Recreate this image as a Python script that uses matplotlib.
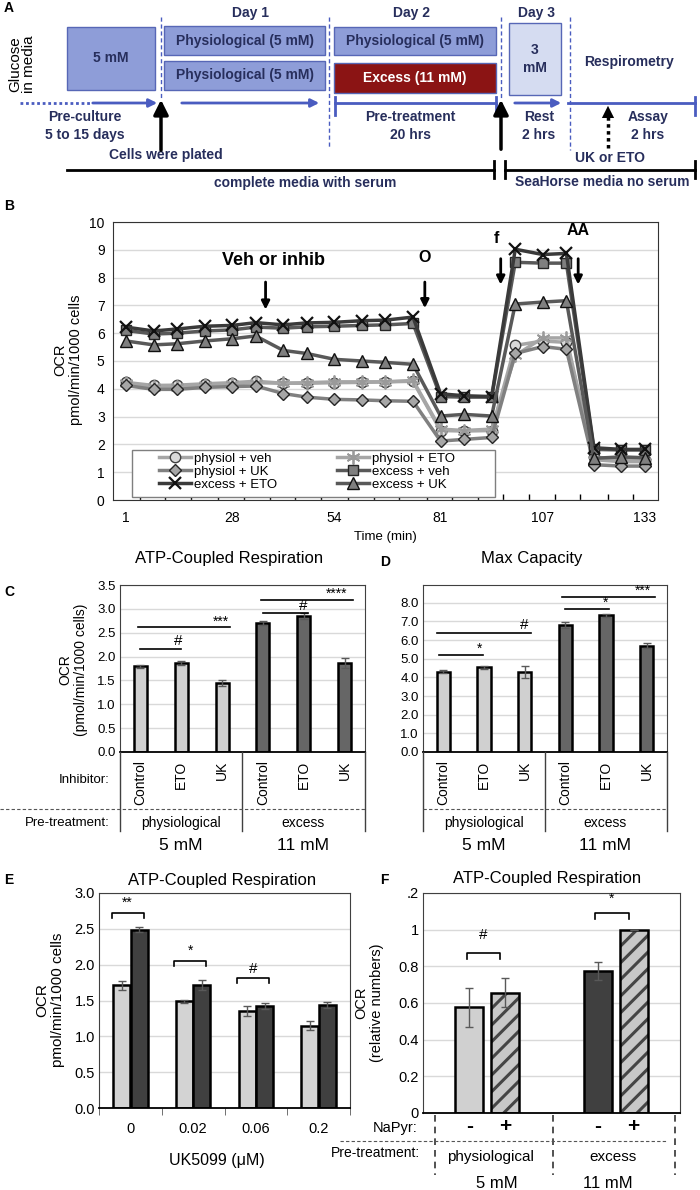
import matplotlib
matplotlib.use("Agg")
import matplotlib.pyplot as plt
from matplotlib.patches import Rectangle
from matplotlib.ticker import FormatStrFormatter
import numpy as np

plt.rcParams["font.family"] = ["Liberation Sans", "DejaVu Sans"]
plt.rcParams["hatch.linewidth"] = 2.2

# ---------------- data ----------------
# B: respirometry trace (OCR, pmol/min/1000 cells)
times = [1, 8, 14, 21, 28, 34, 41, 47, 54, 61, 67, 74, 81, 87, 94, 100, 107, 113, 120, 127, 133]
time_ticks = [1, 28, 54, 81, 107, 133]
trace_names = ["physiol + veh", "physiol + ETO", "physiol + UK",
               "excess + veh", "excess + ETO", "excess + UK"]
physiol_veh = [4.23, 4.12, 4.13, 4.18, 4.22, 4.27, 4.20, 4.20, 4.22, 4.23, 4.25, 4.27,
               2.50, 2.48, 2.50, 5.56, 5.72, 5.67, 1.55, 1.45, 1.45]
physiol_eto = [4.20, 4.05, 4.08, 4.12, 4.18, 4.22, 4.20, 4.22, 4.25, 4.25, 4.25, 4.30,
               2.55, 2.50, 2.55, 5.20, 5.83, 5.83, 1.45, 1.38, 1.38]
physiol_uk = [4.12, 3.98, 3.98, 4.05, 4.08, 4.10, 3.83, 3.70, 3.62, 3.60, 3.57, 3.55,
              2.12, 2.18, 2.25, 5.27, 5.52, 5.42, 1.27, 1.22, 1.22]
excess_veh = [6.10, 5.97, 6.00, 6.08, 6.12, 6.22, 6.18, 6.23, 6.25, 6.28, 6.30, 6.35,
              3.72, 3.70, 3.70, 8.55, 8.52, 8.52, 1.82, 1.80, 1.80]
excess_eto = [6.22, 6.08, 6.15, 6.25, 6.28, 6.38, 6.30, 6.37, 6.39, 6.45, 6.47, 6.58,
              3.82, 3.75, 3.72, 9.02, 8.83, 8.87, 1.88, 1.82, 1.82]
excess_uk = [5.72, 5.58, 5.62, 5.72, 5.80, 5.90, 5.38, 5.27, 5.06, 5.00, 4.95, 4.88,
             3.02, 3.08, 3.02, 7.05, 7.12, 7.17, 1.50, 1.55, 1.52]
injections = ["Veh or inhib", "O", "f", "AA"]
injection_times = [36.5, 77, 96.3, 116]

# C / D: bar charts
inhibitors = ["Control", "ETO", "UK", "Control", "ETO", "UK"]
pretreatments = ["physiological", "excess"]
glucose = ["5 mM", "11 mM"]
atp_coupled = [1.80, 1.86, 1.45, 2.71, 2.85, 1.87]
atp_coupled_err = [0.03, 0.04, 0.06, 0.04, 0.07, 0.10]
max_capacity = [4.30, 4.54, 4.30, 6.82, 7.33, 5.70]
max_capacity_err = [0.08, 0.07, 0.33, 0.15, 0.07, 0.13]

# E: UK5099 dose response
uk_doses = ["0", "0.02", "0.06", "0.2"]
uk_physiol = [1.71, 1.49, 1.36, 1.15]
uk_physiol_err = [0.06, 0.02, 0.07, 0.06]
uk_excess = [2.49, 1.72, 1.42, 1.44]
uk_excess_err = [0.04, 0.07, 0.04, 0.04]
uk_sig = ["**", "*", "#"]

# F: sodium pyruvate (relative OCR)
napyr = ["-", "+"]
napyr_minus = [0.577, 0.776]
napyr_minus_err = [0.107, 0.05]
napyr_plus = [0.657, 1.0]
napyr_plus_err = [0.08, 0.0]
napyr_sig = ["#", "*"]

# ---------------- figure ----------------
W, H = 700, 1190
fig = plt.figure(figsize=(W / 100, H / 100), dpi=100)


def px_axes(l, t, r, b):
    return fig.add_axes([l / W, 1 - b / H, (r - l) / W, (b - t) / H])


# overlay in pixel coordinates for the schematic and table text
ov = fig.add_axes([0, 0, 1, 1])
ov.set_xlim(0, W)
ov.set_ylim(H, 0)
ov.axis("off")
ov.set_zorder(10)

LIGHT = "#d0d0d0"
GRID = "#d9d9d9"
BLUE = "#4a5cc0"
BOX = "#8e9dd8"
BOX_EDGE = "#5767b6"
NAVY = "#272e5c"

for lab, x, y in [("A", 4, 8), ("B", 4, 206), ("C", 4, 592), ("D", 380, 562),
                  ("E", 4, 880), ("F", 380, 880)]:
    ov.text(x, y, lab, fontsize=10, fontweight="bold", ha="left", va="center")

# ---------------- A: schematic ----------------
ov.text(22, 64, "Glucose\nin media", rotation=90, ha="center", va="center",
        fontsize=11, linespacing=0.95)
boxes = [
    (67, 27, 88, 63, "5 mM", BOX, NAVY),
    (164, 26, 161, 29, "Physiological (5 mM)", BOX, NAVY),
    (164, 61, 161, 29, "Physiological (5 mM)", BOX, NAVY),
    (334, 27, 162, 28, "Physiological (5 mM)", BOX, NAVY),
    (334, 63, 162, 30, "Excess (11 mM)", "#8b1414", "white"),
    (509, 23, 52, 72, "3\nmM", "#d5dcf1", NAVY),
]
for x, y, w, h, txt, fc, tc in boxes:
    ov.add_patch(Rectangle((x, y), w, h, facecolor=fc, edgecolor=BOX_EDGE, lw=1))
    ov.text(x + w / 2, y + h / 2, txt, ha="center", va="center", color=tc,
            fontsize=10, fontweight="bold", linespacing=1.3)

for x, y0, y1 in [(161, 17, 100), (329, 17, 147), (501, 17, 100), (570, 17, 150)]:
    ov.plot([x, x], [y0, y1], color=BLUE, lw=1, ls=(0, (3, 2)))

for txt, x, y in [("Day 1", 250, 13), ("Day 2", 411, 13), ("Day 3", 537, 13),
                  ("Respirometry", 629, 62), ("Pre-culture\n5 to 15 days", 85, 126),
                  ("Pre-treatment\n20 hrs", 410, 126), ("Rest\n2 hrs", 539, 126),
                  ("Assay\n2 hrs", 648, 126), ("Cells were plated", 166, 155),
                  ("UK or ETO", 610, 158), ("complete media with serum", 305, 183),
                  ("SeaHorse media no serum", 602, 182)]:
    ov.text(x, y, txt, ha="center", va="center", color=NAVY, fontsize=10,
            fontweight="bold", linespacing=1.35)

TL = 103
ov.plot([20, 92], [TL, TL], color=BLUE, lw=2, ls=(0, (1, 1)))
for x0, x1 in [(90, 160), (179, 322), (512, 564)]:
    ov.annotate("", xy=(x1, TL), xytext=(x0, TL),
                arrowprops=dict(arrowstyle="-|>", color=BLUE, lw=2, mutation_scale=12))
ov.plot([335, 496], [TL, TL], color=BLUE, lw=2)
ov.plot([568, 695], [TL, TL], color=BLUE, lw=2)
for x in (335, 496, 695):
    ov.plot([x, x], [97, 115], color=BLUE, lw=2)

for x, y0 in [(161, 153), (501, 152)]:
    ov.annotate("", xy=(x, 97), xytext=(x, y0),
                arrowprops=dict(arrowstyle="-|>", color="black", lw=2.5, mutation_scale=22))
ov.plot([608, 608], [148, 112], color="black", lw=2.5, ls=(0, (1, 1)))
ov.annotate("", xy=(608, 103), xytext=(608, 114),
            arrowprops=dict(arrowstyle="-|>", color="black", lw=0, mutation_scale=22))

ov.plot([67, 494], [170, 170], color="black", lw=2)
ov.plot([505, 695], [170, 170], color="black", lw=2)
for x in (494, 505, 695):
    ov.plot([x, x], [161, 178], color="black", lw=2)

# ---------------- B: trace ----------------
ax_b = px_axes(113, 222, 658, 500)
traces = [physiol_veh, physiol_eto, physiol_uk, excess_veh, excess_eto, excess_uk]
trace_styles = [
    dict(color="#a6a6a6", marker="o", mfc="#d9d9d9", mec="#404040", ms=7.5),
    dict(color="#a6a6a6", marker=(6, 2, 0), mec="#9a9a9a", ms=10, mew=1.3),
    dict(color="#808080", marker="D", mfc="#a6a6a6", mec="#262626", ms=6.5),
    dict(color="#595959", marker="s", mfc="#7f7f7f", mec="#262626", ms=7),
    dict(color="#3a3a3a", marker="x", mec="#111111", ms=8, mew=1.6),
    dict(color="#595959", marker="^", mfc="#7f7f7f", mec="#111111", ms=8),
]
handles = []
for vals, name, st in zip(traces, trace_names, trace_styles):
    h, = ax_b.plot(times, vals, lw=2.5, label=name, **st)
    handles.append(h)

ax_b.set_xlim(times[0] - 3.3, times[-1] + 3.3)
ax_b.set_ylim(0, 10)
ax_b.set_yticks(range(0, 11))
ax_b.grid(axis="y", color=GRID, lw=1)
ax_b.set_axisbelow(True)
ax_b.set_xticks(time_ticks)
mids = [(a + b) / 2 for a, b in zip(times[:-1], times[1:])]
ax_b.set_xticks(mids, minor=True)
ax_b.tick_params(axis="x", which="major", length=0, labelsize=10, pad=8)
ax_b.tick_params(axis="x", which="minor", direction="in", length=4, width=1)
ax_b.tick_params(axis="y", length=0, labelsize=10, pad=6)
for s in ax_b.spines.values():
    s.set_color("#333333")
ov.text(385, 537, "Time (min)", ha="center", va="center", fontsize=9.5)
ov.text(68, 360, "OCR\npmol/min/1000 cells", rotation=90, ha="center", va="center",
        fontsize=10.5, multialignment="center")

ax_b.add_patch(Rectangle(((132 - 113) / 545, (500 - 497) / 278), (495 - 132) / 545,
                         (497 - 450) / 278, transform=ax_b.transAxes, facecolor="white",
                         edgecolor="#7f7f7f", lw=1, zorder=4))
order = [0, 2, 4, 1, 3, 5]
ax_b.legend([handles[i] for i in order], [trace_names[i] for i in order], ncol=2,
            loc="lower left", bbox_to_anchor=((150 - 113) / 545, 0.0), frameon=False,
            fontsize=9.5, handlelength=2.4, handletextpad=0.2, labelspacing=0.05,
            columnspacing=4.6, borderaxespad=0.3).set_zorder(5)

inj_y = [(8.6, 7.94, 6.75), (8.73, 7.94, 6.8), (9.4, 8.78, 7.65), (9.7, 8.78, 7.65)]
for name, t, (ty, y0, y1) in zip(injections, injection_times, inj_y):
    tx = t + 2 if name == "Veh or inhib" else t
    if name == "f":
        tx = t - 1.2
    ax_b.text(tx, ty, name, ha="center", va="center", fontweight="bold",
              fontsize=13 if name == "Veh or inhib" else 11.5)
    ax_b.annotate("", xy=(t, y1), xytext=(t, y0),
                  arrowprops=dict(arrowstyle="-|>", color="black", lw=2, mutation_scale=12))


# ---------------- helpers for bar panels ----------------
def style_bar_axes(ax, ymax, ticks, fmt, labelsize=9.5):
    ax.set_ylim(0, ymax)
    ax.set_yticks(ticks)
    if fmt:
        ax.yaxis.set_major_formatter(FormatStrFormatter(fmt))
    ax.grid(axis="y", color=GRID, lw=1)
    ax.set_axisbelow(True)
    ax.tick_params(axis="y", length=0, labelsize=labelsize, pad=3)
    for s in ax.spines.values():
        s.set_color("#404040")
    ax.spines["bottom"].set_color("black")
    ax.spines["bottom"].set_linewidth(1.3)


def sig(ax, x0, x1, y, label, tx, ty, size=11):
    ax.plot([x0, x1], [y, y], color="black", lw=1.2, clip_on=False)
    ax.text(tx, ty, label, ha="center", va="center", fontsize=size)


def bracket(ax, x0, x1, y, label, ty, size=11):
    leg = 0.025 * ax.get_ylim()[1]
    ax.plot([x0, x0, x1, x1], [y - leg, y, y, y - leg], color="black", lw=1.2)
    ax.text((x0 + x1) / 2, ty, label, ha="center", va="center", fontsize=size)


err_kw = dict(ecolor="#595959", elinewidth=1, capsize=3, capthick=1)

# ---------------- C / D ----------------
for vals, errs, box, title, tpos, ymax, ticks in [
        (atp_coupled, atp_coupled_err, (120, 585, 365, 752), "ATP-Coupled Respiration",
         (229, 558), 3.5, np.arange(0, 3.51, 0.5)),
        (max_capacity, max_capacity_err, (423, 585, 667, 752), "Max Capacity",
         (532, 558), 8.95, np.arange(0, 8.1, 1.0))]:
    ax = px_axes(*box)
    pos = np.arange(len(vals))
    cols = [LIGHT if i < 3 else "#666666" for i in pos]
    ax.bar(pos, vals, width=0.32, color=cols, edgecolor="black", lw=1.8,
           yerr=errs, error_kw=err_kw)
    ax.set_xlim(-0.5, len(vals) - 0.5)
    style_bar_axes(ax, ymax, ticks, "%.1f")
    ax.set_xticks(pos, inhibitors, rotation=90, fontsize=10)
    ax.tick_params(axis="x", length=0, pad=6)
    ov.text(*tpos, title, ha="center", va="center", fontsize=12)
    if ymax < 4:
        sig(ax, 0, 1, 2.15, "#", 0.93, 2.32)
        sig(ax, -0.07, 2.2, 2.62, "***", 1.98, 2.73, 10)
        sig(ax, 3.0, 4.1, 2.92, "#", 3.99, 3.06)
        sig(ax, 2.95, 5.2, 3.19, "****", 4.8, 3.31, 10)
    else:
        sig(ax, -0.1, 0.98, 5.2, "*", 0.9, 5.55, 10)
        sig(ax, -0.15, 2.15, 6.36, "#", 2.0, 6.78)
        sig(ax, 3.0, 4.07, 7.66, "*", 3.98, 7.98, 10)
        sig(ax, 2.93, 5.2, 8.32, "***", 4.9, 8.62, 10)

ov.text(73, 670, "OCR\n(pmol/min/1000 cells)", rotation=90, ha="center", va="center",
        fontsize=10, multialignment="center")
for x in (120, 242, 365, 423, 545, 667):
    ov.plot([x, x], [752, 831], color="#404040", lw=1)
for x0, x1 in [(0, 365), (423, 667)]:
    ov.plot([x0, x1], [809, 809], color="#555555", lw=0.8, ls=(0, (3, 2)))
ov.text(110, 780, "Inhibitor:", ha="right", va="center", fontsize=9.5)
ov.text(110, 823, "Pre-treatment:", ha="right", va="center", fontsize=9.5)
for centers in [(181, 303), (484, 605)]:
    for cx, pre, glc in zip(centers, pretreatments, glucose):
        ov.text(cx, 823, pre, ha="center", va="center", fontsize=10)
        ov.text(cx, 846, glc, ha="center", va="center", fontsize=12.5)

# ---------------- E ----------------
ax_e = px_axes(99, 893, 350, 1108)
pos = np.arange(len(uk_doses))
ax_e.bar(pos - 0.14, uk_physiol, width=0.27, color="#d3d3d3", edgecolor="black", lw=1.8,
         yerr=uk_physiol_err, error_kw=err_kw)
ax_e.bar(pos + 0.14, uk_excess, width=0.27, color="#404040", edgecolor="black", lw=1.8,
         yerr=uk_excess_err, error_kw=err_kw)
ax_e.set_xlim(-0.5, 3.5)
style_bar_axes(ax_e, 3.0, np.arange(0, 3.01, 0.5), "%.1f", labelsize=10.5)
ax_e.set_xticks(pos, uk_doses, fontsize=10.5)
ax_e.set_xticks(np.arange(-0.5, 3.6, 1.0), minor=True)
ax_e.tick_params(axis="x", which="major", length=0, pad=10)
ax_e.tick_params(axis="x", which="minor", length=5, color="#595959")
ov.text(222, 880, "ATP-Coupled Respiration", ha="center", va="center", fontsize=12)
for i, (label, y, ty) in enumerate(zip(uk_sig, [2.72, 2.05, 1.82], [2.86, 2.2, 1.94])):
    bracket(ax_e, i - 0.3, i + 0.21, y, label, ty, 11 if label == "#" else 10)
ov.text(50, 1000, "OCR\npmol/min/1000 cells", rotation=90, ha="center", va="center",
        fontsize=11, multialignment="center")
ov.text(217, 1160, "UK5099 (\u03bcM)", ha="center", va="center", fontsize=11.5)

# ---------------- F ----------------
ax_f = px_axes(423, 893, 680, 1113)
pos = np.arange(len(pretreatments))
ax_f.bar(pos - 0.14, napyr_minus, width=0.22, color=[LIGHT, "#404040"], edgecolor="black",
         lw=1.8, yerr=napyr_minus_err, error_kw=err_kw)
ax_f.bar(pos + 0.14, napyr_plus, width=0.22, color="#c8c8c8", edgecolor="#454545",
         hatch="//", lw=0)
ax_f.bar(pos + 0.14, napyr_plus, width=0.22, fill=False, edgecolor="black", lw=1.8,
         yerr=napyr_plus_err, error_kw=err_kw)
ax_f.set_xlim(-0.5, 1.5)
style_bar_axes(ax_f, 1.2, np.arange(0, 1.21, 0.2), None, labelsize=10.5)
ax_f.set_yticklabels(["0", "0.2", "0.4", "0.6", "0.8", "1", ".2"])
ax_f.set_xticks(np.concatenate([pos - 0.14, pos + 0.14]), [napyr[0]] * 2 + [napyr[1]] * 2,
                fontsize=15, fontweight="bold")
ax_f.tick_params(axis="x", length=0, pad=3)
ov.text(547, 878, "ATP-Coupled Respiration", ha="center", va="center", fontsize=12)
for i, (label, y, ty) in enumerate(zip(napyr_sig, [0.872, 1.09], [0.97, 1.17])):
    bracket(ax_f, i - 0.16, i + 0.1, y, label, ty, 11 if label == "#" else 10)
ov.text(369, 1003, "OCR\n(relative numbers)", rotation=90, ha="center", va="center",
        fontsize=10.5, multialignment="center")
for x in (435, 553, 675):
    ov.plot([x, x], [1115, 1175], color="#333333", lw=1.2, ls=(0, (4, 3)))
ov.plot([340, 667], [1141, 1141], color="#555555", lw=0.8, ls=(0, (3, 2)))
ov.text(418, 1128, "NaPyr:", ha="right", va="center", fontsize=10.5)
ov.text(420, 1153, "Pre-treatment:", ha="right", va="center", fontsize=10)
for cx, pre, gx, glc in zip((490, 613), pretreatments, (497, 608), glucose):
    ov.text(cx, 1157, pre, ha="center", va="center", fontsize=11)
    ov.text(gx, 1183, glc, ha="center", va="center", fontsize=12)

fig.savefig("out.png", dpi=100)
